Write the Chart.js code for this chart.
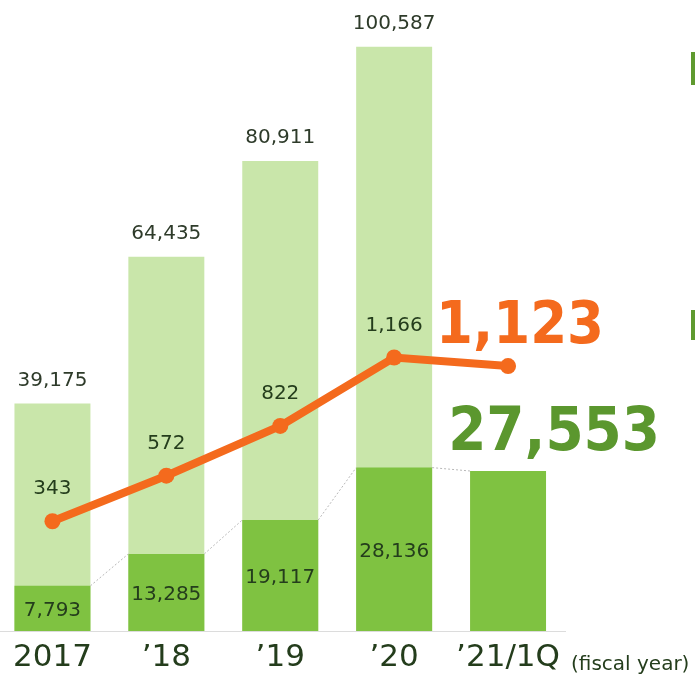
<!DOCTYPE html>
<html>
<head>
<meta charset="utf-8">
<script src="https://cdn.jsdelivr.net/npm/chart.js@4/dist/chart.umd.min.js"></script>
<style>
  html, body { margin: 0; padding: 0; background: #fff; }
  #wrap { width: 695px; height: 678px; position: relative; }
</style>
</head>
<body>
<div id="wrap"><canvas id="myChart"></canvas></div>
<script>
// fiscal years, members (total / paying) and sales
var years = ['2017', '\u201918', '\u201919', '\u201920', '\u201921/1Q']
var totalMembers = [39175, 64435, 80911, 100587, null]
var paidMembers = [7793, 13285, 19117, 28136, 27553]
var sales = [343, 572, 822, 1166, 1123]

var FONT = '"DejaVu Sans", sans-serif'
var BIG_FONT = '"DejaVu Sans Condensed", "DejaVu Sans", sans-serif'
var ORANGE = '#f46a1d'
var LIGHT = '#c9e6aa'
var DARK = '#7fc241'
var TEXT = '#243d1c'

function points (arr) {
  var out = []
  arr.forEach(function (v, i) {
    if (v !== null) out.push({ x: i, y: v })
  })
  return out
}

function fmt (n) {
  return n.toLocaleString('en-US')
}

// value labels, connectors between paying bars, and the side notes
var labelsPlugin = {
  id: 'labels',
  afterDatasetsDraw: function (chart) {
    var ctx = chart.ctx
    var light = chart.getDatasetMeta(2).data
    var dark = chart.getDatasetMeta(1).data
    var line = chart.getDatasetMeta(0).data
    var totals = totalMembers.filter(function (x) { return x !== null })
    ctx.save()

    // dotted connectors from one paying bar top to the next
    ctx.strokeStyle = '#b8b8b8'
    ctx.lineWidth = 1
    ctx.setLineDash([2, 2])
    for (var i = 0; i < dark.length - 1; i++) {
      var a = dark[i]
      var b = dark[i + 1]
      ctx.beginPath()
      ctx.moveTo(a.x + a.width / 2, a.y)
      ctx.lineTo(b.x - b.width / 2, b.y)
      ctx.stroke()
    }
    ctx.setLineDash([])

    ctx.textAlign = 'center'
    ctx.textBaseline = 'middle'
    ctx.font = '20px ' + FONT
    ctx.fillStyle = '#2e3b2a'
    light.forEach(function (bar, i) {
      ctx.fillText(fmt(totals[i]), bar.x, bar.y - 23)
    })

    ctx.fillStyle = TEXT
    dark.forEach(function (bar, i) {
      if (i === dark.length - 1) return
      ctx.fillText(fmt(paidMembers[i]), bar.x, (bar.y + bar.base) / 2 + 2)
    })

    line.forEach(function (pt, i) {
      if (i === line.length - 1) return
      ctx.fillText(fmt(sales[i]), pt.x, pt.y - 32)
    })

    // latest quarter, called out large
    var last = line.length - 1
    ctx.textBaseline = 'alphabetic'
    ctx.font = 'bold 59px ' + BIG_FONT
    ctx.fillStyle = ORANGE
    ctx.fillText(fmt(sales[last]), line[last].x + 12, line[last].y - 23)
    var lastBar = dark[dark.length - 1]
    ctx.font = 'bold 61px ' + BIG_FONT
    ctx.fillStyle = '#5b972e'
    ctx.fillText(fmt(paidMembers[last]), lastBar.x + 46, lastBar.y - 21)

    ctx.restore()
  },
  afterDraw: function (chart) {
    var ctx = chart.ctx
    ctx.save()
    ctx.font = '20px ' + FONT
    ctx.fillStyle = TEXT
    ctx.textAlign = 'left'
    ctx.textBaseline = 'middle'
    ctx.fillText('(fiscal year)', 571, 665)
    // edge of the bullet markers beside the chart
    ctx.fillStyle = '#5f9a2f'
    ctx.fillRect(691, 52, 4, 33)
    ctx.fillRect(691, 310, 4, 30)
    ctx.restore()
  }
}

var ctx = document.getElementById('myChart')
var myChart = new Chart(ctx, {
  type: 'bar',
  data: {
    datasets: [
      {
        type: 'line',
        label: 'sales',
        data: points(sales),
        yAxisID: 'y2',
        order: 0,
        borderColor: ORANGE,
        backgroundColor: ORANGE,
        borderWidth: 8,
        pointRadius: 8,
        pointBackgroundColor: ORANGE,
        pointBorderWidth: 0,
        tension: 0
      },
      {
        label: 'paying',
        data: points(paidMembers),
        yAxisID: 'y',
        order: 1,
        grouped: false,
        backgroundColor: DARK,
        barPercentage: 0.667,
        categoryPercentage: 1
      },
      {
        label: 'total',
        data: points(totalMembers),
        yAxisID: 'y',
        order: 2,
        grouped: false,
        backgroundColor: LIGHT,
        barPercentage: 0.667,
        categoryPercentage: 1
      }
    ]
  },
  options: {
    responsive: true,
    maintainAspectRatio: false,
    animation: false,
    layout: { autoPadding: false, padding: { top: 21, left: 0, right: 130, bottom: -7 } },
    plugins: {
      legend: { display: false },
      tooltip: { enabled: false }
    },
    scales: {
      x: {
        type: 'linear',
        offset: false,
        min: -0.456,
        max: 4.5,
        grid: { display: false, drawTicks: false },
        border: { display: true, color: '#dcdcdc', width: 1 },
        afterBuildTicks: function (scale) {
          scale.ticks = years.map(function (y, i) { return { value: i } })
        },
        ticks: {
          autoSkip: false,
          maxRotation: 0,
          padding: 13,
          color: TEXT,
          font: { family: FONT, size: 31, lineHeight: 0.9 },
          callback: function (v) { return years[v] }
        }
      },
      y: { display: false, min: 0, max: 105000 },
      y2: { display: false, min: -209, max: 2857 }
    }
  },
  plugins: [labelsPlugin]
})
</script>
</body>
</html>
